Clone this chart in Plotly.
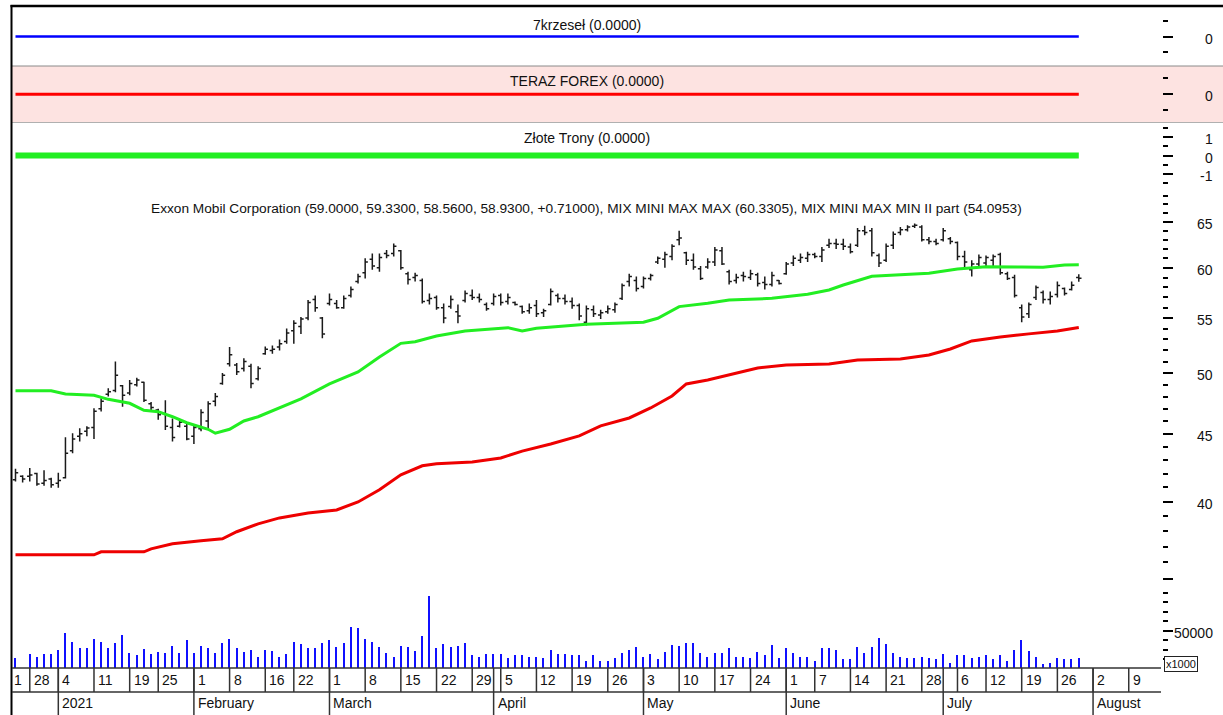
import math
import pandas as pd
import plotly.graph_objects as go

# ---------------- data ----------------
holidays = ["2020-12-25", "2021-01-01", "2021-01-18", "2021-02-15",
            "2021-04-02", "2021-05-31", "2021-07-05"]
calendar = [d.strftime("%Y-%m-%d") for d in
            pd.bdate_range("2020-12-23", "2021-08-13", freq="C", holidays=holidays)]
dates = calendar[:150]

open_ = [41.55, 41.80, 41.80, 42.00, 41.30, 41.60, 41.30, 41.70, 43.70, 44.80,
         45.20, 45.50, 47.00, 48.20, 48.50, 48.90, 48.30, 49.00, 49.20, 47.40,
         46.90, 46.60, 45.50, 45.60, 45.60, 44.80, 45.40, 46.00, 47.60, 49.10,
         50.80, 50.70, 50.40, 50.60, 49.50, 51.70, 52.00, 52.30, 52.80, 53.80,
         54.20, 55.00, 56.80, 55.00, 56.40, 56.40, 56.00, 57.20, 58.60, 59.50,
         60.90, 60.00, 61.50, 61.50, 61.80, 59.40, 59.00, 58.70, 56.70, 57.00,
         56.00, 56.10, 55.60, 56.70, 57.20, 57.00, 56.30, 56.40, 57.20, 56.60,
         56.50, 56.10, 55.70, 56.20, 55.50, 56.30, 57.20, 56.90, 56.60, 56.20,
         54.60, 55.80, 55.30, 55.60, 55.80, 56.90, 58.60, 58.70, 58.10, 58.90,
         60.60, 60.90, 61.20, 63.00, 61.60, 60.80, 59.90, 60.10, 60.60, 61.80,
         59.60, 58.70, 59.20, 59.00, 59.30, 58.50, 58.30, 58.70, 59.40, 60.50,
         60.80, 61.00, 61.40, 61.20, 62.40, 62.60, 62.50, 62.20, 62.40, 64.00,
         64.00, 61.30, 60.80, 62.40, 63.80, 64.10, 64.50, 64.40, 63.00, 62.80,
         63.00, 63.10, 62.70, 61.20, 59.80, 60.40, 60.50, 60.80, 61.40, 59.40,
         59.00, 56.00, 55.40, 57.00, 57.50, 56.80, 57.30, 57.90, 57.80, 59.00]
high = [42.35, 41.87, 42.40, 42.05, 42.25, 41.70, 42.05, 44.73, 45.04, 45.43,
        45.60, 47.03, 47.86, 48.70, 51.00, 48.97, 49.40, 49.60, 49.25, 47.55,
        47.00, 47.70, 46.20, 46.10, 45.90, 45.70, 46.95, 47.60, 48.30, 50.00,
        52.30, 50.87, 51.30, 50.80, 50.60, 52.35, 52.45, 53.00, 54.00, 54.80,
        55.10, 56.75, 57.20, 55.10, 57.40, 56.75, 57.20, 58.10, 59.40, 61.00,
        61.50, 61.50, 61.90, 62.60, 61.90, 59.60, 59.50, 58.90, 57.40, 57.20,
        56.40, 57.20, 56.30, 57.70, 57.80, 57.40, 56.50, 57.40, 57.40, 57.40,
        56.60, 56.20, 56.40, 56.75, 55.90, 57.90, 57.40, 57.30, 57.00, 56.40,
        56.20, 56.20, 55.80, 56.20, 56.50, 58.40, 59.40, 59.10, 59.10, 59.40,
        61.20, 61.70, 62.50, 64.00, 61.70, 61.50, 60.20, 61.00, 62.20, 62.20,
        59.80, 59.40, 59.60, 59.80, 59.50, 59.10, 59.60, 58.75, 60.60, 61.30,
        61.50, 61.70, 61.60, 62.20, 63.10, 63.10, 63.10, 62.60, 64.30, 64.55,
        64.30, 61.50, 62.60, 63.90, 64.40, 64.60, 64.80, 64.60, 63.30, 63.10,
        64.30, 63.30, 62.80, 61.80, 60.80, 61.40, 61.30, 61.40, 61.60, 59.60,
        59.30, 56.30, 56.50, 58.20, 57.70, 57.60, 58.60, 58.00, 58.60, 59.33]
low = [41.42, 41.35, 41.42, 41.13, 41.13, 40.98, 40.98, 41.64, 43.50, 44.40,
       44.80, 44.60, 46.77, 48.00, 48.35, 47.16, 48.10, 48.85, 47.55, 46.90,
       46.10, 45.30, 44.40, 45.50, 44.50, 44.20, 45.20, 45.35, 47.20, 49.00,
       50.56, 49.82, 50.14, 48.70, 49.35, 51.60, 51.70, 52.00, 52.60, 52.60,
       53.50, 54.80, 55.60, 53.10, 56.20, 55.90, 55.90, 57.00, 58.40, 58.90,
       59.80, 59.60, 61.00, 61.20, 59.80, 58.30, 58.60, 56.40, 56.30, 55.80,
       54.50, 55.90, 54.50, 56.50, 56.75, 56.50, 55.70, 56.20, 56.20, 56.30,
       56.20, 55.40, 55.40, 55.10, 55.10, 56.20, 56.50, 56.30, 55.90, 54.80,
       54.30, 55.10, 54.90, 55.40, 55.50, 56.75, 58.10, 57.60, 57.90, 58.70,
       60.40, 60.00, 60.80, 62.40, 60.30, 59.80, 58.75, 59.90, 60.20, 60.30,
       58.30, 58.40, 58.60, 58.75, 58.10, 57.80, 58.10, 58.30, 59.30, 60.20,
       60.50, 60.60, 61.00, 60.60, 62.10, 62.00, 61.90, 61.50, 62.20, 63.50,
       61.20, 60.10, 60.60, 62.00, 63.50, 63.90, 64.30, 62.80, 62.50, 62.40,
       62.80, 62.50, 60.80, 60.00, 59.10, 60.20, 60.20, 60.20, 59.30, 58.75,
       57.00, 54.60, 55.00, 56.75, 56.40, 56.30, 57.00, 57.20, 57.70, 58.56]
close = [42.05, 41.60, 41.90, 41.25, 41.50, 41.20, 41.50, 43.50, 44.60, 45.00,
         45.45, 46.80, 47.60, 48.40, 49.80, 48.10, 49.10, 49.40, 47.70, 47.10,
         46.50, 45.60, 44.70, 45.90, 44.60, 45.50, 46.70, 47.40, 48.00, 49.80,
         51.60, 50.10, 51.00, 49.10, 50.40, 52.10, 52.10, 52.60, 53.60, 54.50,
         54.90, 56.50, 56.00, 53.50, 56.80, 56.00, 56.90, 57.80, 59.10, 60.60,
         60.20, 61.10, 61.30, 62.30, 60.00, 58.80, 59.20, 56.60, 56.90, 56.00,
         55.00, 56.80, 55.20, 57.40, 57.00, 56.80, 55.90, 57.10, 56.50, 57.00,
         56.30, 55.60, 56.00, 55.40, 55.70, 57.60, 56.90, 56.60, 56.20, 55.20,
         55.90, 55.40, 55.50, 55.90, 56.30, 58.20, 59.10, 57.90, 58.90, 59.20,
         61.00, 61.40, 62.30, 63.20, 60.80, 60.10, 58.90, 60.60, 61.90, 60.40,
         58.60, 59.00, 59.10, 59.40, 58.40, 58.30, 59.20, 58.40, 60.40, 61.00,
         61.10, 61.40, 61.20, 61.90, 62.60, 62.50, 62.30, 61.70, 64.00, 63.80,
         61.60, 60.50, 62.30, 63.60, 64.10, 64.40, 64.60, 63.00, 62.80, 62.60,
         64.00, 62.80, 61.20, 60.60, 60.40, 61.10, 61.10, 61.20, 59.50, 58.90,
         57.20, 55.10, 56.30, 58.00, 56.80, 57.10, 58.20, 57.40, 58.22, 58.93]
volume = [20700, 9200, 25300, 22400, 25300, 25300, 29500, 47400, 38200, 31300,
          31300, 41100, 38200, 31300, 36500, 45300, 26000, 23900, 30500, 25300,
          27700, 26600, 33700, 26600, 40000, 26600, 33700, 31300, 26600, 36500,
          41100, 31300, 27700, 29500, 22400, 29500, 28400, 22400, 25300, 38200,
          35800, 31300, 31300, 36500, 40000, 32900, 36500, 53700, 52600, 41000,
          38200, 32900, 26000, 22400, 33700, 32900, 28700, 44200, 86300, 31300,
          35800, 32900, 33700, 37200, 24200, 22400, 25300, 25300, 25300, 20700,
          24200, 24200, 22400, 22400, 20700, 29500, 25300, 25300, 24200, 24200,
          17900, 24200, 17900, 17900, 20700, 26000, 29500, 32900, 22400, 25300,
          19700, 27700, 34700, 33700, 37200, 37200, 26600, 22400, 26600, 26600,
          31300, 22400, 22400, 20700, 27700, 24200, 35100, 20700, 31300, 26000,
          22400, 22400, 18200, 31300, 31300, 29500, 19700, 19700, 32900, 26600,
          32900, 42100, 35800, 26600, 22400, 20700, 20700, 22400, 20700, 19700,
          25300, 16100, 24200, 24200, 20700, 22400, 24200, 19700, 24200, 17900,
          29500, 40000, 28400, 22400, 14700, 16100, 20700, 19700, 19700, 20700]

green_dates = ["2020-12-23", "2020-12-31", "2021-01-05", "2021-01-11", "2021-01-13",
               "2021-01-19", "2021-01-21", "2021-01-25", "2021-01-27", "2021-01-29",
               "2021-02-03", "2021-02-04", "2021-02-08", "2021-02-10", "2021-02-12",
               "2021-02-17", "2021-02-18", "2021-02-23", "2021-03-01", "2021-03-05",
               "2021-03-10", "2021-03-15", "2021-03-17", "2021-03-22", "2021-03-26",
               "2021-04-01", "2021-04-06", "2021-04-08", "2021-04-12", "2021-04-21",
               "2021-04-29", "2021-05-03", "2021-05-05", "2021-05-10", "2021-05-14",
               "2021-05-19", "2021-05-27", "2021-06-04", "2021-06-09", "2021-06-11",
               "2021-06-17", "2021-06-22", "2021-06-29", "2021-07-06", "2021-07-12",
               "2021-07-19", "2021-07-22", "2021-07-27", "2021-07-29"]
green_vals = [48.49, 48.49, 48.22, 48.11, 47.77, 47.44, 46.87, 46.76, 46.35, 45.87,
              45.35, 45.04, 45.35, 46.01, 46.35, 46.84, 47.08, 47.80, 49.06, 50.09,
              51.41, 52.64, 52.79, 53.31, 53.78, 53.96, 54.09, 53.78, 54.03, 54.41,
              54.50, 54.60, 54.98, 56.10, 56.43, 56.75, 56.91, 57.31, 57.74, 58.24,
              59.13, 59.26, 59.44, 59.88, 60.12, 60.09, 60.06, 60.30, 60.3305]

red_dates = ["2020-12-23", "2021-01-11", "2021-01-12", "2021-01-21", "2021-01-22",
             "2021-01-27", "2021-02-02", "2021-02-05", "2021-02-09", "2021-02-12",
             "2021-02-18", "2021-02-24", "2021-03-02", "2021-03-05", "2021-03-10",
             "2021-03-15", "2021-03-18", "2021-03-22", "2021-03-29", "2021-04-05",
             "2021-04-08", "2021-04-14", "2021-04-20", "2021-04-23", "2021-04-29",
             "2021-05-04", "2021-05-07", "2021-05-11", "2021-05-14", "2021-05-19",
             "2021-05-25", "2021-06-01", "2021-06-09", "2021-06-15", "2021-06-23",
             "2021-06-29", "2021-07-02", "2021-07-08", "2021-07-14", "2021-07-20",
             "2021-07-26", "2021-07-29"]
red_vals = [36.48, 36.48, 36.67, 36.67, 36.86, 37.18, 37.38, 37.51, 37.97, 38.49,
            38.89, 39.22, 39.43, 39.98, 40.83, 41.91, 42.57, 42.72, 42.85, 43.15,
            43.67, 44.21, 44.83, 45.62, 46.25, 47.06, 48.05, 49.06, 49.40, 49.83,
            50.44, 50.70, 50.79, 51.14, 51.23, 51.59, 52.13, 52.86, 53.23, 53.51,
            53.78, 54.0953]

krz_dates = ["2020-12-23", "2021-07-29"]
krz_vals = [0.0, 0.0]
forex_dates = ["2020-12-23", "2021-07-29"]
forex_vals = [0.0, 0.0]
trony_dates = ["2020-12-23", "2021-07-29"]
trony_vals = [0.0, 0.0]

week_starts = ["2020-12-28", "2021-01-04", "2021-01-11", "2021-01-19", "2021-01-25",
               "2021-02-01", "2021-02-08", "2021-02-16", "2021-02-22", "2021-03-01",
               "2021-03-08", "2021-03-15", "2021-03-22", "2021-03-29", "2021-04-05",
               "2021-04-12", "2021-04-19", "2021-04-26", "2021-05-03", "2021-05-10",
               "2021-05-17", "2021-05-24", "2021-06-01", "2021-06-07", "2021-06-14",
               "2021-06-21", "2021-06-28", "2021-07-06", "2021-07-12", "2021-07-19",
               "2021-07-26", "2021-08-02", "2021-08-09"]
clipped_first_label = "1"
month_starts = ["2021-01-04", "2021-02-01", "2021-03-01", "2021-04-01",
                "2021-05-03", "2021-06-01", "2021-07-01", "2021-08-02"]
month_labels = ["2021", "February", "March", "April", "May", "June", "July", "August"]

price_labels = [65, 60, 55, 50, 45, 40]
price_major = [35, 40, 45, 50, 55, 60, 65]
volume_label = 50000

# ---------------- layout helpers ----------------
W, H = 1223, 715
FONT = "Liberation Sans, Arial, sans-serif"
pos = {d: i for i, d in enumerate(calendar)}


def px(x):
    return x / W


def py(y):
    return 1 - y / H


AX_X = px(1161.5)
LBL_X = px(1215)

fig = go.Figure()
fig.add_trace(go.Scatter(x=krz_dates, y=krz_vals, mode="lines",
                         line=dict(color="#0000ff", width=2.5), yaxis="y"))
fig.add_trace(go.Scatter(x=forex_dates, y=forex_vals, mode="lines",
                         line=dict(color="#ff0000", width=3), yaxis="y2"))
fig.add_trace(go.Scatter(x=trony_dates, y=trony_vals, mode="lines",
                         line=dict(color="#22ee22", width=6), yaxis="y3"))
fig.add_trace(go.Bar(x=dates, y=volume, yaxis="y5", width=0.2,
                     marker=dict(color="#1010ff", line=dict(width=0))))
fig.add_trace(go.Scatter(x=green_dates, y=green_vals, mode="lines",
                         line=dict(color="#22ee22", width=3), yaxis="y4"))
fig.add_trace(go.Scatter(x=red_dates, y=red_vals, mode="lines",
                         line=dict(color="#ee0000", width=3), yaxis="y4"))
fig.add_trace(go.Ohlc(x=dates, open=open_, high=high, low=low, close=close,
                      yaxis="y4", tickwidth=0.38,
                      increasing=dict(line=dict(color="#1a1a1a", width=1.5)),
                      decreasing=dict(line=dict(color="#1a1a1a", width=1.5))))

common = dict(anchor="free", position=AX_X, side="right", showline=False,
              showgrid=False, zeroline=False, ticks="outside", ticklen=10,
              tickwidth=2, tickcolor="#000", showticklabels=False, fixedrange=True,
              tickmode="array")
minor_common = dict(ticks="outside", ticklen=5, tickwidth=2, tickcolor="#000",
                    showgrid=False)

price_top, price_bot = 68.673, 34.44
vol_top, vol_bot = 94737, 10526

fig.update_layout(
    width=W, height=H, margin=dict(l=0, r=0, t=0, b=0),
    paper_bgcolor="white", plot_bgcolor="rgba(0,0,0,0)",
    showlegend=False, bargap=0,
    font=dict(family=FONT, size=14, color="#000"),
    xaxis=dict(domain=[px(12), px(1161)], type="category", categoryorder="array",
               categoryarray=calendar, range=[-0.49, 160.52], showticklabels=False,
               ticks="", showgrid=False, zeroline=False, showline=False,
               rangeslider=dict(visible=False), fixedrange=True),
    yaxis=dict(domain=[py(66), py(7)], range=[-0.95, 0.95], tickvals=[0],
               minor=dict(tickvals=[-0.5, 0.5], **minor_common), **common),
    yaxis2=dict(domain=[py(122.5), py(66)], range=[-0.89, 0.89], tickvals=[0],
                minor=dict(tickvals=[-0.5, 0.5], **minor_common), **common),
    yaxis3=dict(domain=[py(190), py(122.5)], range=[-1.855, 1.774],
                tickvals=[-1, 0, 1],
                minor=dict(tickvals=[-1.5, -0.5, 0.5, 1.5], **minor_common), **common),
    yaxis4=dict(domain=[py(588), py(190)], type="log",
                range=[math.log10(price_bot), math.log10(price_top)],
                tickvals=price_major,
                minor=dict(tickvals=[v for v in range(35, 69) if v % 5], **minor_common),
                **common),
    yaxis5=dict(domain=[py(668), py(588)], range=[vol_bot, vol_top],
                tickvals=[volume_label],
                minor=dict(tickvals=[v for v in range(20000, 100000, 10000) if v != volume_label],
                           **minor_common), **common),
)

shapes = []
# pink background for TERAZ FOREX panel
shapes.append(dict(type="rect", xref="paper", yref="paper", x0=px(12), x1=1,
                   y0=py(122.5), y1=py(66), fillcolor="#fde3e1", line=dict(width=0),
                   layer="below"))
for yy, col in [(66, "#8a8a8a"), (122.5, "#b0b0b0")]:
    shapes.append(dict(type="line", xref="paper", yref="paper", x0=px(12), x1=1,
                       y0=py(yy), y1=py(yy), line=dict(color=col, width=1)))
# frame lines
shapes.append(dict(type="line", xref="paper", yref="paper", x0=px(10.5), x1=1,
                   y0=py(6), y1=py(6), line=dict(color="#000", width=2.5)))
shapes.append(dict(type="line", xref="paper", yref="paper", x0=px(11.5), x1=px(11.5),
                   y0=py(5), y1=0, line=dict(color="#000", width=2)))
for yy in (668, 692):
    shapes.append(dict(type="line", xref="paper", yref="paper", x0=px(12), x1=px(1161),
                       y0=py(yy), y1=py(yy), line=dict(color="#333", width=1.5)))
for d in week_starts:
    shapes.append(dict(type="line", xref="x", yref="paper", x0=pos[d], x1=pos[d],
                       y0=py(692), y1=py(668), line=dict(color="#333", width=1.5)))
for d in month_starts:
    shapes.append(dict(type="line", xref="x", yref="paper", x0=pos[d], x1=pos[d],
                       y0=0, y1=py(668), line=dict(color="#333", width=1.5)))

ann = []


def text(x, y, s, xref="paper", yref="paper", xanchor="center", size=14, **kw):
    ann.append(dict(x=x, y=y, xref=xref, yref=yref, text=s, showarrow=False,
                    xanchor=xanchor, yanchor="middle",
                    font=dict(family=FONT, size=size, color="#111"), **kw))


# week day numbers and month names
for d in week_starts:
    text(pos[d], py(680), str(int(d[-2:])), xref="x", xanchor="left", xshift=2)
text(-0.49, py(680), clipped_first_label, xref="x", xanchor="left", xshift=0)
for d, lab in zip(month_starts, month_labels):
    text(pos[d], py(703), lab, xref="x", xanchor="left", xshift=2)

# panel titles
cx = px(586.5)
text(cx, py(25), f"7krzeseł ({krz_vals[-1]:.4f})")
text(cx, py(81), f"TERAZ FOREX ({forex_vals[-1]:.4f})")
text(cx, py(138), f"Złote Trony ({trony_vals[-1]:.4f})")
chg = close[-1] - close[-2]
title = (f"Exxon Mobil Corporation ({open_[-1]:.4f}, {high[-1]:.4f}, {low[-1]:.4f}, "
         f"{close[-1]:.4f}, {chg:+.5f}), MIX MINI MAX MAX ({green_vals[-1]:.4f}), "
         f"MIX MINI MAX MIN II part ({red_vals[-1]:.4f})")
text(cx, py(208), title, size=13.7)

# right-axis labels (right aligned)
text(LBL_X, 0, "0", yref="y", xanchor="right", yshift=-2)
text(LBL_X, 0, "0", yref="y2", xanchor="right", yshift=-2)
for v in (1, 0, -1):
    text(LBL_X, v, str(v), yref="y3", xanchor="right", yshift=-2)
for v in price_labels:
    text(LBL_X, math.log10(v), str(v), yref="y4", xanchor="right", yshift=-2)
text(LBL_X, volume_label, str(volume_label), yref="y5", xanchor="right", yshift=-2)
ann.append(dict(x=px(1163.5), y=py(663.5), xref="paper", yref="paper", text="x1000",
                showarrow=False, xanchor="left", yanchor="middle",
                font=dict(family=FONT, size=11, color="#111"),
                bordercolor="#222", borderwidth=1, borderpad=1, bgcolor="white"))

fig.update_layout(shapes=shapes, annotations=ann)
fig.write_html(
    "out.html",
    config={"displayModeBar": False},
    post_script=("document.body.style.margin='0';document.body.style.padding='0';"
                 "document.body.style.overflow='hidden';"),
)
